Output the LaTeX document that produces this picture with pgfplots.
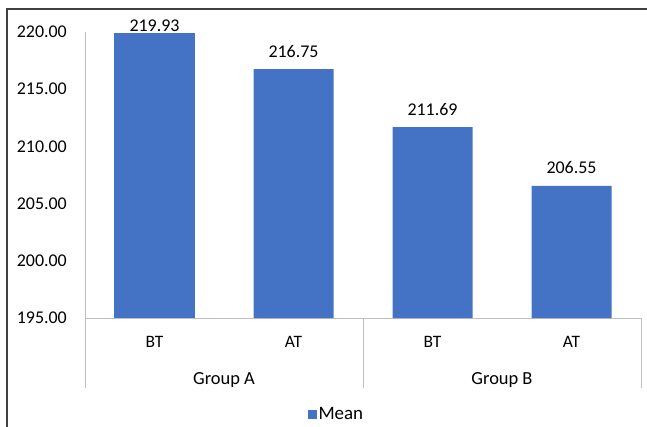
\documentclass[border=0pt]{standalone}
\usepackage{pgfplots}
\pgfplotsset{compat=1.18}
\usepackage{fontspec}
\setmainfont{Carlito}
\definecolor{barblue}{HTML}{4472C4}
\definecolor{axisgray}{HTML}{BFBFBF}
\definecolor{framegray}{HTML}{404040}
\begin{document}
\begin{tikzpicture}
% page extent and outer frame (top and left edges)
\useasboundingbox (0bp,0bp) rectangle (647bp,-427bp);
\draw[framegray, line width=1.4bp] (7bp,-427bp) -- (7bp,-9bp) -- (647bp,-9bp);
\begin{axis}[
  at={(85bp,-318bp)}, anchor=south west,
  scale only axis, width=556bp, height=286bp,
  xmin=-0.5, xmax=3.5, ymin=195, ymax=220,
  ybar, bar width=80bp,
  axis x line*=bottom, axis y line*=left,
  axis line style={axisgray, line width=0.9bp, -},
  xtick={0,1,2,3}, xticklabels={BT,AT,BT,AT},
  ytick={195,200,205,210,215,220},
  major tick length=0pt,
  /pgf/number format/assume math mode=true,
  yticklabel style={/pgf/number format/fixed, /pgf/number format/fixed zerofill,
    /pgf/number format/precision=2, /pgf/number format/1000 sep={}},
  yticklabel style={font=\fontsize{18}{20}\selectfont, anchor=east, inner sep=0pt, xshift=-18bp},
  xticklabel style={font=\fontsize{17.5}{20}\selectfont, anchor=base, inner sep=0pt, yshift=-29bp},
  legend style={at={(axis description cs:0.452,-0.336)}, anchor=center, draw=none,
    font=\fontsize{19}{21}\selectfont, inner sep=0pt},
  legend image code/.code={\fill[barblue] (0bp,-4.5bp) rectangle (9bp,4.5bp);},
  clip=false,
]
\addplot[fill=barblue, draw=none, bar shift=0pt,
  nodes near coords, point meta=explicit symbolic,
  nodes near coords style={font=\fontsize{18}{20}\selectfont, black, anchor=base, inner sep=0pt, yshift=1bp}]
  coordinates {(0,219.93) [219.93]};
\addlegendentry{Mean}
\addplot[fill=barblue, draw=none, bar shift=0pt, forget plot,
  nodes near coords, point meta=explicit symbolic,
  nodes near coords style={font=\fontsize{18}{20}\selectfont, black, anchor=base, inner sep=0pt, yshift=12bp}]
  coordinates {(1,216.75) [216.75] (2,211.69) [211.69] (3,206.55) [206.55]};
% category group separators
\draw[axisgray, line width=0.9bp] (axis cs:-0.5,195) -- ++(0bp,-70bp);
\draw[axisgray, line width=0.9bp] (axis cs:1.5,195) -- ++(0bp,-70bp);
\draw[axisgray, line width=0.9bp] (axis cs:3.5,195) -- ++(0bp,-70bp);
\node[font=\fontsize{18.5}{20}\selectfont, anchor=base, inner sep=0pt] at ([yshift=-66bp]axis cs:0.5,195) {Group A};
\node[font=\fontsize{18.5}{20}\selectfont, anchor=base, inner sep=0pt] at ([yshift=-66bp]axis cs:2.5,195) {Group B};
\end{axis}
\end{tikzpicture}
\end{document}
